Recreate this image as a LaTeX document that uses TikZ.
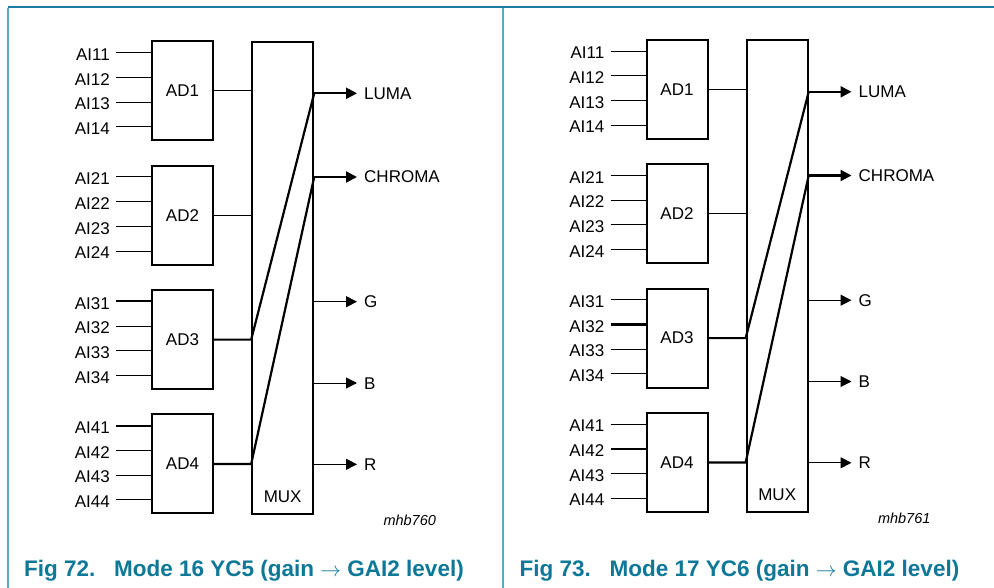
\documentclass[tikz,border=0pt]{standalone}
\usepackage{fontspec}
\setmainfont{Liberation Sans}
\usetikzlibrary{arrows.meta}
\definecolor{capteal}{RGB}{14,120,152}
\definecolor{frametop}{RGB}{30,122,160}
\definecolor{frameside}{RGB}{90,168,198}
\tikzset{
  lblfont/.style={font=\fontsize{17}{20}\selectfont},
  adbox/.style={draw, line width=2pt, minimum width=61pt, minimum height=99pt, inner sep=0pt, lblfont},
  muxbox/.style={draw, line width=2pt, minimum width=61pt, minimum height=472pt, inner sep=0pt},
  inlbl/.style={anchor=east, inner xsep=6pt, inner ysep=0pt, text height=15.4pt, text depth=0pt, lblfont},
  outlbl/.style={anchor=west, inner xsep=7pt, inner ysep=0pt, text height=12pt, text depth=0pt, lblfont},
  thinwire/.style={line width=1pt},
  thickwire/.style={line width=2.2pt},
  sig/.style={-{Triangle[length=11pt,width=11pt]}},
  capt/.style={anchor=base west, inner sep=0pt, text=capteal, font=\fontsize{22.5}{27}\selectfont\bfseries},
  tag/.style={anchor=base west, inner sep=0pt, font=\fontsize{14.5}{17}\selectfont\itshape},
  framefig/.style={line width=1.5pt}
}
\newcommand\drawpanel[4]{%
  \node[muxbox] (#1mux) at (282.7,277.6) {};
  \node[lblfont, inner sep=0pt] (#1muxlbl) at (282.7,496.7) {MUX};
  \foreach \g in {1,2,3,4}{%
    \node[adbox] (#1ad\g) at (182.5,{91+124.3*(\g-1)}) {AD\g};
    \foreach \i/\dy in {1/-38.3,2/-13.5,3/11.1,4/35.8}{%
      \node[inlbl] (#1ai\g\i) at (116,{91+124.3*(\g-1)+\dy}) {AI\g\i};
      \pgfmathsetmacro\lw{((\g==3)&&(\i==#2))||((\g==4)&&(\i==#3)) ? 2.2 : 1}
      \draw[line width=\lw pt] (#1ai\g\i.east) -- (#1ad\g.west |- #1ai\g\i.east);
    }
  }
  \draw[thinwire] (#1ad1.east) -- (#1mux.west |- #1ad1.east);
  \draw[thinwire] (#1ad2.east) -- (#1mux.west |- #1ad2.east);
  \node[outlbl] (#1luma) at (357,93.3) {LUMA};
  \node[outlbl] (#1chroma) at (357,177) {CHROMA};
  \node[outlbl] (#1g) at (357,301.7) {G};
  \node[outlbl] (#1b) at (357,383) {B};
  \node[outlbl] (#1r) at (357,464.3) {R};
  \draw[thickwire] (#1ad3.east) -- (#1mux.west |- #1ad3.east) -- (#1mux.east |- #1luma.west);
  \draw[thickwire] (#1ad4.east) -- (#1mux.west |- #1ad4.east) -- (#1mux.east |- #1chroma.west);
  \draw[sig, thickwire] (#1mux.east |- #1luma.west) -- (#1luma.west);
  \draw[sig, thickwire] (#1mux.east |- #1chroma.west) -- (#1chroma.west);
  \draw[sig, thinwire] (#1mux.east |- #1g.west) -- (#1g.west);
  \draw[sig, thinwire] (#1mux.east |- #1b.west) -- (#1b.west);
  \draw[sig, thinwire] (#1mux.east |- #1r.west) -- (#1r.west);
  \node[tag] (#1tag) at (383.3,525) {#4};
}
\begin{document}
\begin{tikzpicture}[x=1pt,y=-1pt]
  \useasboundingbox (0,0) rectangle (994,588);
  \fill[white] (0,0) rectangle (994,588);
  \draw[framefig, frametop] (8,7) -- (994,7);
  \draw[framefig, frameside] (8,7.7) -- (8,588);
  \draw[framefig, frameside] (503,7.7) -- (503,588);
  \drawpanel{L}{1}{1}{mhb760}
  \begin{scope}[shift={(494.5,-1.5)}]
    \drawpanel{R}{2}{2}{mhb761}
  \end{scope}
  \node[capt] (Lfig) at (24,576) {Fig 72.};
  \node[capt] (Lmode) at (114,576) {Mode 16 YC5 (gain $\rightarrow$ GAI2 level)};
  \node[capt] (Rfig) at (519.5,576) {Fig 73.};
  \node[capt] (Rmode) at (609.5,576) {Mode 17 YC6 (gain $\rightarrow$ GAI2 level)};
\end{tikzpicture}
\end{document}
